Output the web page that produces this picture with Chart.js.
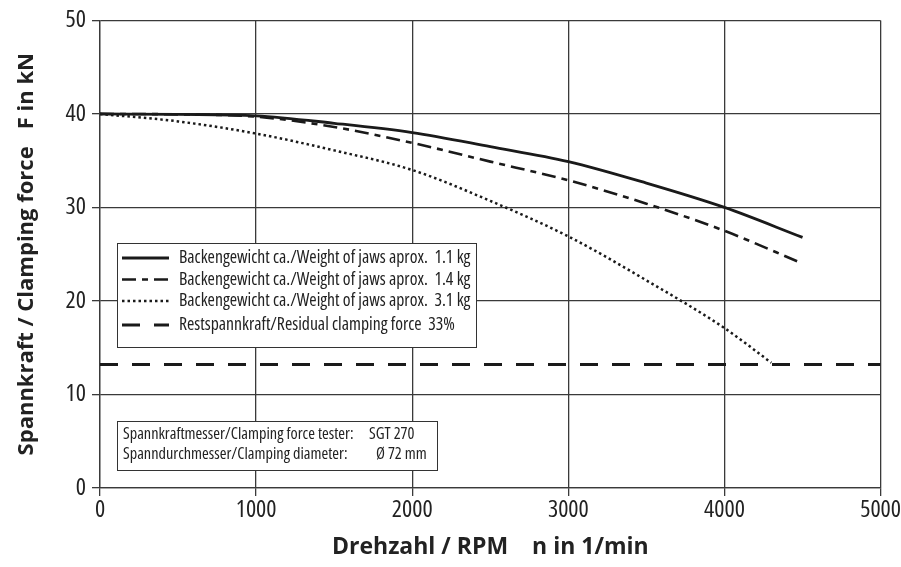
<!DOCTYPE html>
<html>
<head>
<meta charset="utf-8">
<script src="https://cdn.jsdelivr.net/npm/chart.js@4/dist/chart.umd.min.js"></script>
<style>
  body { margin: 0; background: #fff; }
  canvas { display: block; }
</style>
</head>
<body>
<canvas id="myChart" width="901" height="567"></canvas>
<script>
'use strict'

// data
var rpm = [0, 500, 1000, 1500, 2000, 2500, 3000, 3500, 4000, 4500];
var force11 = [40, 39.95, 39.8, 39.0, 38.0, 36.5, 34.9, 32.6, 30.0, 26.8];
var force14 = [40, 39.95, 39.7, 38.6, 36.9, 34.9, 32.9, 30.4, 27.5, 24.0];
var rpm31 = [0, 500, 1000, 1500, 2000, 2500, 3000, 3500, 4000, 4300];
var force31 = [40, 39.2, 37.9, 36.1, 34.0, 30.7, 26.9, 22.2, 17.1, 13.4];
var residualRpm = [0, 5000];
var residualForce = [13.2, 13.2];

var seriesLabels = [
    "Backengewicht ca./Weight of jaws aprox.  1.1 kg",
    "Backengewicht ca./Weight of jaws aprox.  1.4 kg",
    "Backengewicht ca./Weight of jaws aprox.  3.1 kg",
    "Restspannkraft/Residual clamping force  33%"
];
var infoLabels = ["Spannkraftmesser/Clamping force tester:", "Spanndurchmesser/Clamping diameter:"];
var infoValues = ["SGT 270", "Ø 72 mm"];

var xTicks = [0, 1000, 2000, 3000, 4000, 5000];
var yTicks = [0, 10, 20, 30, 40, 50];

var fam = "'Open Sans', 'Roboto Condensed', sans-serif";
var ink = "#1a1a1a";

function toPoints(xs, ys) {
    var pts = [];
    for (var i = 0; i < xs.length; i++) {
        pts.push({ x: xs[i], y: ys[i] });
    }
    return pts;
}

function createDataSet(label, pts, width, dash, tension) {
    return {
        label: label,
        data: pts,
        borderColor: ink,
        backgroundColor: ink,
        borderWidth: width,
        borderDash: dash,
        borderCapStyle: 'butt',
        pointRadius: 0,
        fill: false,
        tension: tension,
        cubicInterpolationMode: 'monotone'
    };
}

// legend box and tester box drawn inside the plot
var boxPlugin = {
    id: 'boxes',
    afterDatasetsDraw: function (chart) {
        var ctx = chart.ctx;
        ctx.save();

        // legend
        ctx.fillStyle = "#fff";
        ctx.fillRect(117, 243, 359, 104);
        ctx.strokeStyle = "#333";
        ctx.lineWidth = 1;
        ctx.strokeRect(117.5, 243.5, 359, 104);
        var rowY = [258, 279.5, 301, 325];
        ctx.font = "condensed 17.7px " + fam;
        ctx.textBaseline = "middle";
        chart.data.datasets.forEach(function (ds, i) {
            ctx.beginPath();
            ctx.strokeStyle = ink;
            ctx.lineWidth = ds.borderWidth;
            ctx.setLineDash(ds.borderDash || []);
            ctx.moveTo(122, rowY[i]);
            ctx.lineTo(169, rowY[i]);
            ctx.stroke();
            ctx.setLineDash([]);
            ctx.fillStyle = "#222";
            ctx.fillText(ds.label, 179, rowY[i]);
        });

        // tester info
        ctx.fillStyle = "#fff";
        ctx.fillRect(117, 421, 320, 49);
        ctx.strokeStyle = "#333";
        ctx.lineWidth = 1;
        ctx.strokeRect(117.5, 421.5, 320, 49);
        ctx.fillStyle = "#222";
        ctx.font = "condensed 16.3px " + fam;
        var infoY = [434, 454];
        var valueX = [369, 376];
        for (var k = 0; k < infoLabels.length; k++) {
            ctx.fillText(infoLabels[k], 123, infoY[k]);
            ctx.fillText(infoValues[k], valueX[k], infoY[k]);
        }
        ctx.restore();
    }
};

window.onload = function () {
    var ctx = document.getElementById("myChart");
    new Chart(ctx, {
        type: 'line',
        data: {
            datasets: [
                createDataSet(seriesLabels[0], toPoints(rpm, force11), 2.8, [], 0.4),
                createDataSet(seriesLabels[1], toPoints(rpm, force14), 2.6, [14, 6, 6, 6], 0.4),
                createDataSet(seriesLabels[2], toPoints(rpm31, force31), 2.5, [2.5, 3], 0.4),
                createDataSet(seriesLabels[3], toPoints(residualRpm, residualForce), 3, [18, 14], 0)
            ]
        },
        options: {
            responsive: false,
            animation: false,
            layout: {
                autoPadding: false,
                padding: { left: 0, right: 13, top: 15, bottom: 0 }
            },
            plugins: {
                legend: { display: false },
                tooltip: { enabled: false }
            },
            scales: {
                x: {
                    type: 'linear',
                    min: 0,
                    max: 5000,
                    afterBuildTicks: function (scale) {
                        scale.ticks = xTicks.map(function (v) { return { value: v }; });
                    },
                    afterFit: function (scale) { scale.height = 79; },
                    grid: { color: "#3a3a3a", lineWidth: 1.3, tickLength: 8 },
                    border: { color: "#3a3a3a", width: 1.3 },
                    ticks: {
                        color: "#222",
                        padding: 0,
                        maxRotation: 0,
                        font: { family: fam, size: 24, weight: 'condensed' },
                        callback: function (v) { return String(v); }
                    },
                    title: {
                        display: true,
                        text: "Drehzahl / RPM    n in 1/min",
                        color: "#222",
                        padding: { top: 0, bottom: 6 },
                        font: { family: fam, size: 23, weight: 'bold' }
                    }
                },
                y: {
                    type: 'linear',
                    min: 0,
                    max: 50,
                    afterBuildTicks: function (scale) {
                        scale.ticks = yTicks.map(function (v) { return { value: v }; });
                    },
                    afterFit: function (scale) { scale.width = 100; },
                    grid: { color: "#3a3a3a", lineWidth: 1.3, tickLength: 8 },
                    border: { color: "#3a3a3a", width: 1.3 },
                    ticks: {
                        color: "#222",
                        padding: 6,
                        font: { family: fam, size: 24, weight: 'condensed' },
                        callback: function (v) { return String(v); }
                    },
                    title: {
                        display: true,
                        text: "Spannkraft / Clamping force   F in kN",
                        color: "#222",
                        padding: { top: 14, bottom: 0 },
                        font: { family: fam, size: 22, weight: 'bold' }
                    }
                }
            }
        },
        plugins: [boxPlugin]
    });
}
</script>
</body>
</html>
